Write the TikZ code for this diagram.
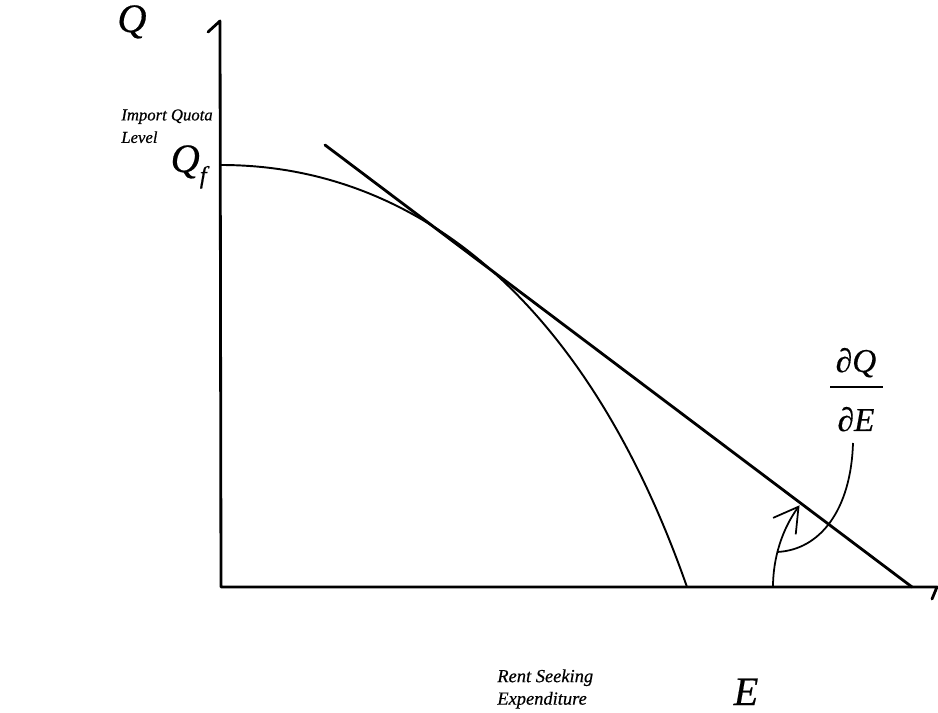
\documentclass[tikz,border=0pt]{standalone}
\usepackage{fontspec}
\setmainfont{Liberation Serif}
\usetikzlibrary{arrows.meta}
\begin{document}
\begin{tikzpicture}[x=0.02cm,y=-0.02cm,
  axisline/.style={line width=1.6pt,line cap=round,line join=round},
  curveline/.style={line width=1.1pt},
  tanline/.style={line width=1.6pt,line cap=round},
  thinline/.style={line width=1.0pt},
  biglabel/.style={font=\fontsize{23}{25}\selectfont\itshape\addfontfeature{FakeBold=0.4},inner sep=0pt},
  smalllabel/.style={font=\fontsize{10.5}{12.8}\selectfont\itshape\addfontfeature{FakeBold=0.5},inner sep=0pt,align=left},
  fraclabel/.style={font=\fontsize{19}{21}\selectfont\itshape\addfontfeature{FakeBold=0.4},inner sep=0pt}]
\useasboundingbox (0,0) rectangle (938,713);
% coordinates
\coordinate (hook) at (208,32);
\coordinate (ytop) at (220,21);
\coordinate (O) at (221,587);
\coordinate (xend) at (937,587);
\coordinate (xtick) at (932,599);
\coordinate (Qf) at (221,165);
\coordinate (Ecut) at (687,587);
\coordinate (T1) at (325,145);
\coordinate (T2) at (912,587);
\coordinate (A1) at (773,587);
% axes
\draw[axisline] (hook) -- (ytop) -- (O) -- (xend) -- (xtick);
% frontier curve
\draw[curveline] (Qf) .. controls (421,165) and (589,307) .. (Ecut);
% tangent line
\draw[tanline] (T1) -- (T2);
% angle arc with arrow
\draw[thinline,-{Straight Barb[length=4.8mm,width=5.6mm,line width=1pt]}] (A1) arc[start angle=180,end angle=216,radius=139];
% leader from label
\coordinate (L1) at (853,443);
\coordinate (L2) at (777,552);
\draw[thinline] (L1) .. controls (851,510) and (820,550) .. (L2);
% labels
\node[biglabel,anchor=base] (Qlab) at (132,32) {Q};
\node[smalllabel,anchor=north west,font=\fontsize{9.5}{12.8}\selectfont\itshape\addfontfeature{FakeBold=0.5}] (ylab) at (121,109) {Import Quota\\Level};
\node[biglabel,anchor=base east] (Qflab) at (207,172) {Q\raisebox{-0.28em}{\fontsize{14}{14}\selectfont f}};
\node[smalllabel,anchor=north west] (xlab) at (497,669) {Rent Seeking\\Expenditure};
\node[biglabel,anchor=base] (Elab) at (746,705) {E};
\node[fraclabel,anchor=base] (num) at (856,372) {∂Q};
\node[fraclabel,anchor=base] (den) at (856,431) {∂E};
\draw[line width=1pt] (830,387) -- (883,387);
\end{tikzpicture}
\end{document}
